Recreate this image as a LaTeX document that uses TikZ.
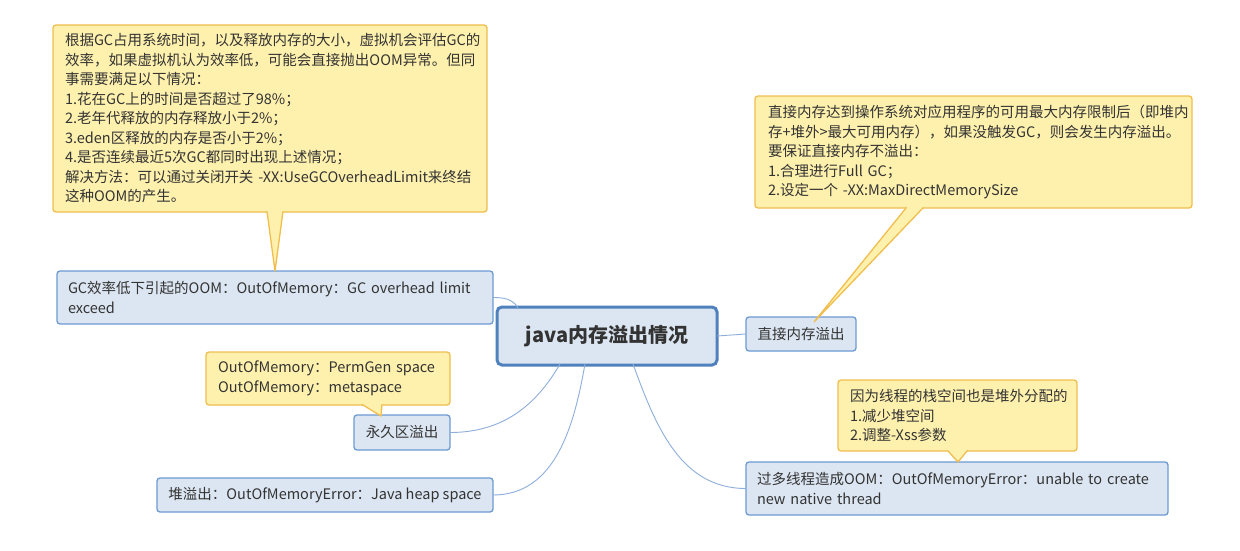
\documentclass[tikz,border=0pt]{standalone}
\usepackage{fontspec}
\setmainfont{Noto Sans CJK SC}
\usetikzlibrary{calc}
\definecolor{tfill}{HTML}{DCE6F2}
\definecolor{tborder}{HTML}{6D9AD3}
\definecolor{cborder}{HTML}{4F81BD}
\definecolor{yfill}{HTML}{FEF1AE}
\definecolor{yborder}{HTML}{F0BE4E}
\definecolor{txt}{HTML}{333333}
\definecolor{conncol}{HTML}{8DAEDB}
\tikzset{
  base/.style={anchor=north west, rounded corners=3pt, align=left, text=txt,
    font=\fontsize{14.5}{19.5}\selectfont, inner ysep=2pt, outer sep=0pt},
  topic/.style={base, draw=tborder, fill=tfill, line width=1.3pt},
  callout/.style={base, draw=yborder, fill=yfill, line width=1.3pt},
  conn/.style={draw=conncol, line width=0.9pt},
  ptr/.style={draw=yborder, line width=1.3pt, line join=round},
}
\begin{document}
\begin{tikzpicture}[x=1pt,y=-1pt]
\useasboundingbox[fill=white] (0,0) rectangle (1240,551);

% topics
\node[topic, inner xsep=11pt, text width=414pt, minimum height=53pt] (gc) at (57,271)
  {GC效率低下引起的OOM：OutOfMemory：GC overhead limit\\exceed};
\node[topic, draw=cborder, line width=3pt, rounded corners=5pt, anchor=center, align=center,
  minimum width=220pt, minimum height=58pt, font=\fontsize{20}{24}\selectfont\bfseries,
  text=txt] (center) at (607,336) {java内存溢出情况};
\node[topic, align=center, anchor=center, minimum width=110pt, minimum height=34pt] (zj) at (801,334) {直接内存溢出};
\node[topic, align=center, anchor=center, minimum width=96pt, minimum height=35pt] (yj) at (402,432.5) {永久区溢出};
\node[topic, align=center, anchor=center, inner xsep=2pt, minimum width=336pt, minimum height=34pt] (heap) at (325,495)
  {堆溢出：OutOfMemoryError：Java heap space};
\node[topic, inner xsep=11pt, text width=400pt, minimum height=53pt] (thread) at (746,462)
  {过多线程造成OOM：OutOfMemoryError：unable to create\\new native thread};

% callouts
\node[callout, inner xsep=12pt, text width=410pt, minimum height=187pt] (c1) at (53,25)
  {根据GC占用系统时间，以及释放内存的大小，虚拟机会评估GC的\\
   效率，如果虚拟机认为效率低，可能会直接抛出OOM异常。但同\\
   事需要满足以下情况：\\
   1.花在GC上的时间是否超过了98\%；\\
   2.老年代释放的内存释放小于2\%；\\
   3.eden区释放的内存是否小于2\%；\\
   4.是否连续最近5次GC都同时出现上述情况；\\
   解决方法：可以通过关闭开关 -XX:UseGCOverheadLimit来终结\\
   这种OOM的产生。};
\node[callout, inner xsep=13pt, text width=411pt, minimum height=112pt] (c2) at (755,96)
  {直接内存达到操作系统对应用程序的可用最大内存限制后（即堆内\\
   存+堆外>最大可用内存），如果没触发GC，则会发生内存溢出。\\
   要保证直接内存不溢出：\\
   1.合理进行Full GC；\\
   2.设定一个 -XX:MaxDirectMemorySize};
\node[callout, inner xsep=12pt, text width=220pt, minimum height=53pt] (c3) at (206,352)
  {OutOfMemory：PermGen space\\OutOfMemory：metaspace};
\node[callout, inner xsep=12pt, text width=215pt, minimum height=71pt] (c4) at (838,380)
  {因为线程的栈空间也是堆外分配的\\1.减少堆空间\\2.调整-Xss参数};

% callout pointers
\coordinate (t1) at (275,271);
\coordinate (t2) at (814,322);
\coordinate (t3) at (381,416);
\coordinate (t4) at (958,462);
\fill[yfill] ($(c1.south)+(-3,-1)$) -- (t1) -- ($(c1.south)+(13,-1)$) -- cycle;
\draw[ptr] ($(c1.south)+(-3,-0.6)$) -- (t1) -- ($(c1.south)+(13,-0.6)$);
\fill[yfill] ($(c2.south)+(-67,-1)$) -- (t2) -- ($(c2.south)+(-50,-1)$) -- cycle;
\draw[ptr] ($(c2.south)+(-67,-0.6)$) -- (t2) -- ($(c2.south)+(-50,-0.6)$);
\fill[yfill] ($(c3.south)+(34,-1)$) -- (t3) -- ($(c3.south)+(54,-1)$) -- cycle;
\draw[ptr] ($(c3.south)+(34,-0.6)$) -- (t3) -- ($(c3.south)+(54,-0.6)$);
\fill[yfill] ($(c4.south)+(-10,-1)$) -- (t4) -- ($(c4.south)+(10,-1)$) -- cycle;
\draw[ptr] ($(c4.south)+(-10,-0.6)$) -- (t4) -- ($(c4.south)+(10,-0.6)$);

% connectors
\draw[conn] (gc.east) to[out=0,in=120] ($(center.north west)+(21,1)$);
\draw[conn] (center.east) -- (zj.west);
\draw[conn] (yj.east) to[out=0,in=240] ($(center.south west)+(63,-1)$);
\draw[conn] (heap.east) to[out=0,in=260] ($(center.south west)+(88,-1)$);
\draw[conn] ($(center.south west)+(136,-1)$) to[out=290,in=180] (thread.west);
\end{tikzpicture}
\end{document}
